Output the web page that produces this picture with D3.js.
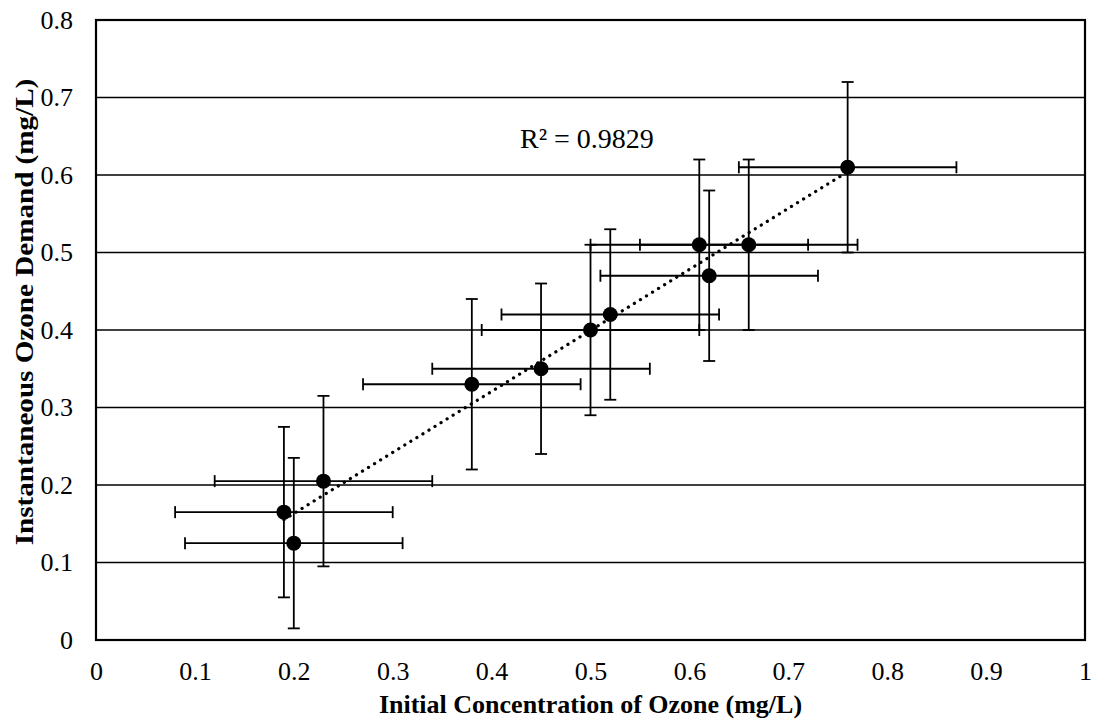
<!DOCTYPE html>
<html>
<head>
<meta charset="utf-8">
<script src="https://cdn.jsdelivr.net/npm/d3@7"></script>
<style>
  body { margin: 0; background: #fff; }
  text { font-family: "Liberation Serif", "Times New Roman", serif; fill: #000; }
</style>
</head>
<body>
<div id="chart"></div>
<script>
// data
const initialOzone = [0.19, 0.20, 0.23, 0.38, 0.45, 0.50, 0.52, 0.61, 0.62, 0.66, 0.76];
const ozoneDemand = [0.165, 0.125, 0.205, 0.33, 0.35, 0.40, 0.42, 0.51, 0.47, 0.51, 0.61];
const xError = [0.11, 0.11, 0.11, 0.11, 0.11, 0.11, 0.11, 0.11, 0.11, 0.11, 0.11];
const yError = [0.11, 0.11, 0.11, 0.11, 0.11, 0.11, 0.11, 0.11, 0.11, 0.11, 0.11];
const xTicks = [0, 0.1, 0.2, 0.3, 0.4, 0.5, 0.6, 0.7, 0.8, 0.9, 1];
const yTicks = [0, 0.1, 0.2, 0.3, 0.4, 0.5, 0.6, 0.7, 0.8];
const rSquaredLabel = "R² = 0.9829";

const points = initialOzone.map((x, i) => ({
  x: x, y: ozoneDemand[i], ex: xError[i], ey: yError[i]
}));

const W = 1097, H = 723;
const MARGIN = { t: 20, l: 96, r: 12, b: 83 };

const svg = d3.select("#chart").append("svg")
  .attr("width", W).attr("height", H);

const x = d3.scaleLinear().domain([0, 1]).range([MARGIN.l, W - MARGIN.r]);
const y = d3.scaleLinear().domain([0, 0.8]).range([H - MARGIN.b, MARGIN.t]);

// horizontal gridlines
svg.append("g")
  .selectAll("line")
  .data(yTicks)
  .join("line")
  .attr("x1", x(0)).attr("x2", x(1))
  .attr("y1", d => y(d)).attr("y2", d => y(d))
  .attr("stroke", "#000").attr("stroke-width", 1.6);

// plot border
svg.append("rect")
  .attr("x", x(0)).attr("y", y(0.8))
  .attr("width", x(1) - x(0)).attr("height", y(0) - y(0.8))
  .attr("fill", "none").attr("stroke", "#000").attr("stroke-width", 2.2);

// axes (labels only)
const xAxis = svg.append("g")
  .attr("transform", `translate(0, ${y(0)})`)
  .call(d3.axisBottom(x).tickValues(xTicks).tickSize(0).tickPadding(22)
    .tickFormat(d => d === 0 || d === 1 ? d3.format("d")(d) : d3.format(".1f")(d)));
xAxis.select(".domain").remove();
xAxis.attr("font-family", null).attr("font-size", null);
xAxis.selectAll("text").style("font-size", "26px");

const yAxis = svg.append("g")
  .attr("transform", `translate(${x(0)}, 0)`)
  .call(d3.axisLeft(y).tickValues(yTicks).tickSize(0).tickPadding(23)
    .tickFormat(d => d === 0 ? "0" : d3.format(".1f")(d)));
yAxis.select(".domain").remove();
yAxis.attr("font-family", null).attr("font-size", null);
yAxis.selectAll("text").style("font-size", "26px");

// axis titles
svg.append("text")
  .attr("x", (x(0) + x(1)) / 2).attr("y", 713)
  .attr("text-anchor", "middle")
  .style("font-size", "26px").style("font-weight", "bold")
  .text("Initial Concentration of Ozone (mg/L)");

// the scan is a bit stretched vertically, so the y title runs longer
svg.append("text")
  .attr("transform", "translate(33, 312) rotate(-90) scale(1.12, 1)")
  .attr("text-anchor", "middle")
  .style("font-size", "26px").style("font-weight", "bold")
  .text("Instantaneous Ozone Demand (mg/L)");

// error bars
const CAP = 6;
const bars = svg.append("g").attr("stroke", "#000").attr("stroke-width", 1.8);
points.forEach(p => {
  bars.append("line")
    .attr("x1", x(p.x - p.ex)).attr("x2", x(p.x + p.ex))
    .attr("y1", y(p.y)).attr("y2", y(p.y));
  bars.append("line")
    .attr("x1", x(p.x)).attr("x2", x(p.x))
    .attr("y1", y(p.y - p.ey)).attr("y2", y(p.y + p.ey));
  [p.x - p.ex, p.x + p.ex].forEach(v => {
    bars.append("line")
      .attr("x1", x(v)).attr("x2", x(v))
      .attr("y1", y(p.y) - CAP).attr("y2", y(p.y) + CAP);
  });
  [p.y - p.ey, p.y + p.ey].forEach(v => {
    bars.append("line")
      .attr("x1", x(p.x) - CAP).attr("x2", x(p.x) + CAP)
      .attr("y1", y(v)).attr("y2", y(v));
  });
});

// linear trendline (least squares)
const mx = d3.mean(points, d => d.x), my = d3.mean(points, d => d.y);
const slope = d3.sum(points, d => (d.x - mx) * (d.y - my)) / d3.sum(points, d => (d.x - mx) ** 2);
const icpt = my - slope * mx;
const [x0, x1] = d3.extent(initialOzone);
svg.append("line")
  .attr("x1", x(x0)).attr("y1", y(icpt + slope * x0))
  .attr("x2", x(x1)).attr("y2", y(icpt + slope * x1))
  .attr("stroke", "#000").attr("stroke-width", 3.2)
  .attr("stroke-linecap", "round").attr("stroke-dasharray", "0.1,7");

// markers
svg.append("g")
  .selectAll("circle")
  .data(points)
  .join("circle")
  .attr("cx", d => x(d.x)).attr("cy", d => y(d.y))
  .attr("r", 7.5).attr("fill", "#000");

// R squared
svg.append("text")
  .attr("x", 520).attr("y", 148)
  .style("font-size", "28px")
  .text(rSquaredLabel);
</script>
</body>
</html>
